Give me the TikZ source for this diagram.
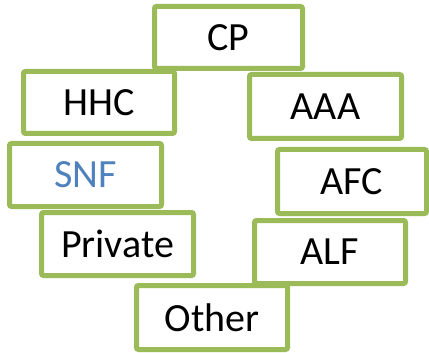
\documentclass[tikz,border=0pt]{standalone}
\usepackage{fontspec}
\setmainfont{Carlito}
\definecolor{boxgreen}{HTML}{9BBB59}
\definecolor{snfblue}{HTML}{4F81BD}
\begin{document}
\begin{tikzpicture}[x=1pt,y=1pt,
  box/.style={draw=boxgreen, line width=5pt, fill=white, rounded corners=2pt,
    inner sep=0pt, font=\fontsize{40}{44}\selectfont, text=black}]
\useasboundingbox (0,0) rectangle (429,-353);
\node[box, minimum width=148pt, minimum height=62pt] (cp) at (228.5,-37.5) {CP};
\node[box, minimum width=151pt, minimum height=62pt] (hhc) at (99,-102.5) {HHC};
\node[box, minimum width=152pt, minimum height=64pt] (aaa) at (325.5,-106.5) {AAA};
\node[box, minimum width=152pt, minimum height=63pt, text=snfblue] (snf) at (85.5,-175) {SNF};
\node[box, minimum width=149pt, minimum height=64pt] (afc) at (352,-181.5) {AFC};
\node[box, minimum width=152pt, minimum height=63pt] (private) at (117.5,-244) {Private};
\node[box, minimum width=151pt, minimum height=64pt] (other) at (212,-317.5) {Other};
\node[box, minimum width=151pt, minimum height=63pt] (alf) at (330,-252) {ALF};
\end{tikzpicture}
\end{document}
